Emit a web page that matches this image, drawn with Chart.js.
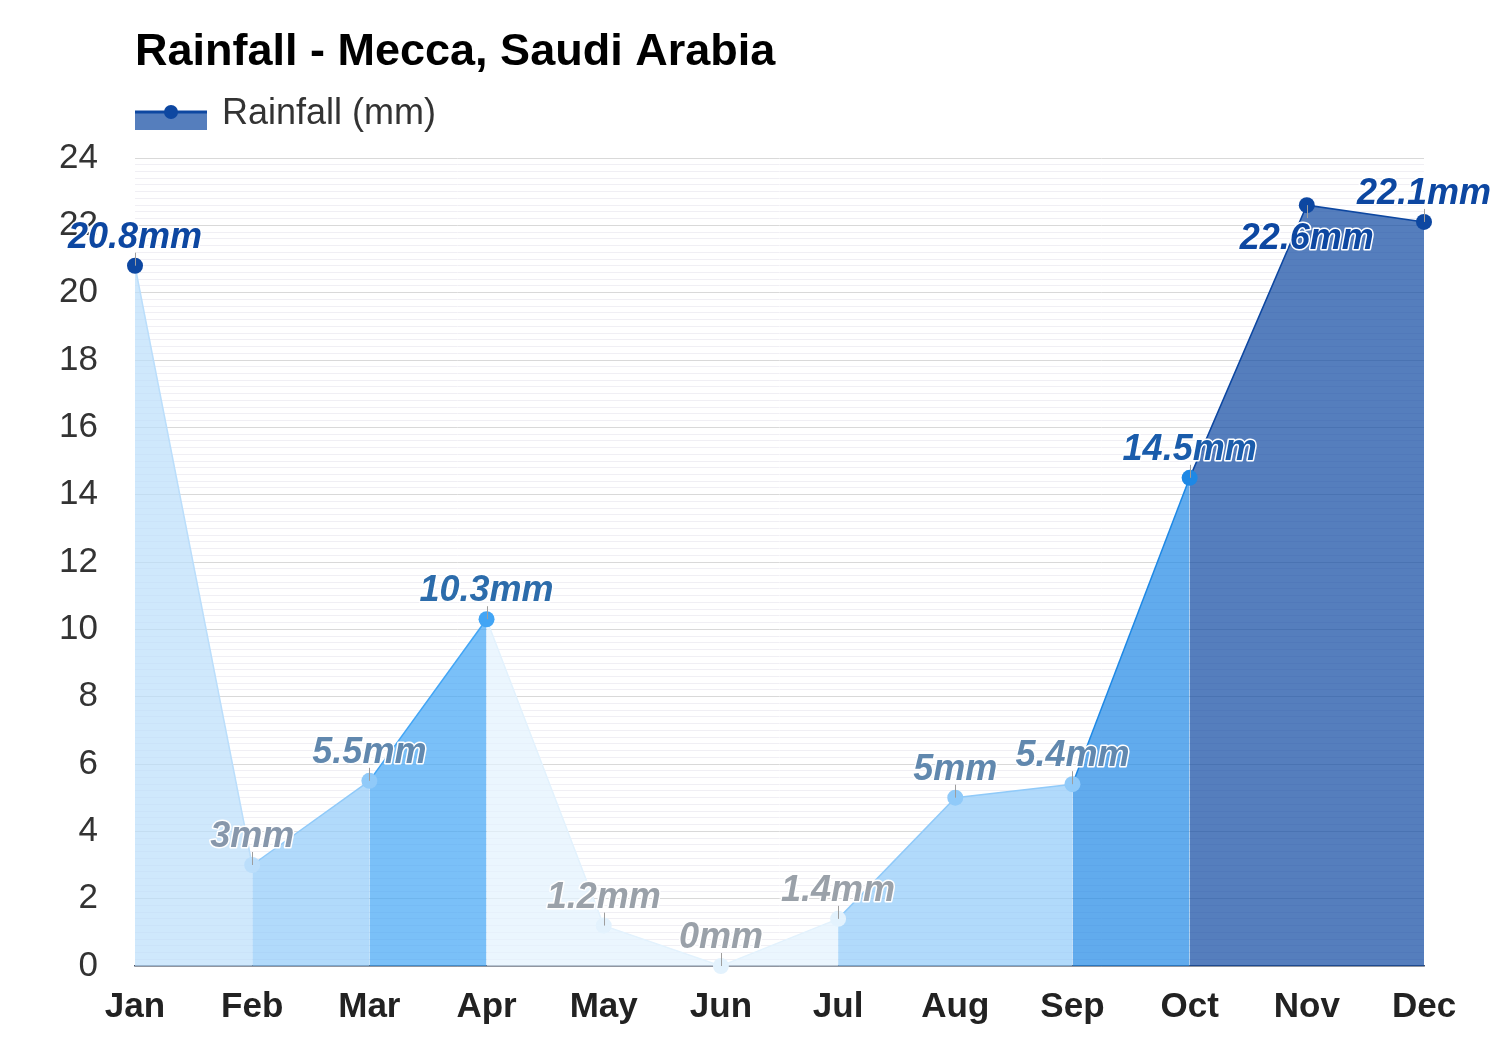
<!DOCTYPE html>
<html>
<head>
<meta charset="utf-8">
<title>Rainfall - Mecca, Saudi Arabia</title>
<script src="https://cdn.jsdelivr.net/npm/chart.js@4.4.1/dist/chart.umd.min.js"></script>
<style>
    html, body { margin: 0; padding: 0; background: #ffffff; }
    #wrap { width: 1500px; height: 1050px; }
</style>
</head>
<body>
<div id="wrap"><canvas id="rainChart" width="1500" height="1050"></canvas></div>
<script>
// Monthly data
const months = ['Jan', 'Feb', 'Mar', 'Apr', 'May', 'Jun', 'Jul', 'Aug', 'Sep', 'Oct', 'Nov', 'Dec'];
const rainfall = [20.8, 3, 5.5, 10.3, 1.2, 0, 1.4, 5, 5.4, 14.5, 22.6, 22.1];

// Y axis ticks
const yMax = 24;
const majorStep = 2;
const minorStep = 0.2;

// Labels drawn under their point instead of above
const labelsBelow = ['Nov'];

// Colour buckets by rainfall amount
const bucketLimits = [2, 4, 8, 12, 20];
const pointColors = ['#e3f2fd', '#bbdefb', '#90caf9', '#42a5f5', '#1e88e5', '#0d47a1'];
const fillColors = [
    'rgba(227, 242, 253, 0.7)',
    'rgba(187, 222, 251, 0.7)',
    'rgba(144, 202, 249, 0.7)',
    'rgba(66, 165, 245, 0.7)',
    'rgba(30, 136, 229, 0.7)',
    'rgba(13, 71, 161, 0.7)'
];
const labelColors = ['#9aa1a9', '#8797ab', '#6188ae', '#2c6cab', '#1a5cab', '#0d47a1'];

function bucket(v) {
    let i = 0;
    while (i < bucketLimits.length && v >= bucketLimits[i]) i++;
    return i;
}

function isMajor(v) {
    return Math.abs(v / majorStep - Math.round(v / majorStep)) < 1e-6;
}

const FONT = "'Liberation Sans', Arial, sans-serif";

// Title and legend drawn on the canvas
const headerPlugin = {
    id: 'header',
    afterDraw(chart) {
        const ctx = chart.ctx;
        ctx.save();
        ctx.fillStyle = '#000000';
        ctx.font = 'bold 45px ' + FONT;
        ctx.textBaseline = 'alphabetic';
        ctx.textAlign = 'left';
        ctx.fillText('Rainfall - Mecca, Saudi Arabia', 135, 65);

        // legend swatch
        ctx.fillStyle = fillColors[5];
        ctx.fillRect(135, 112, 72, 18);
        ctx.strokeStyle = pointColors[5];
        ctx.lineWidth = 3;
        ctx.beginPath();
        ctx.moveTo(135, 112);
        ctx.lineTo(207, 112);
        ctx.stroke();
        ctx.fillStyle = pointColors[5];
        ctx.beginPath();
        ctx.arc(171, 112, 7, 0, Math.PI * 2);
        ctx.fill();

        ctx.fillStyle = '#333333';
        ctx.font = '36px ' + FONT;
        ctx.fillText('Rainfall (mm)', 222, 124);
        ctx.restore();
    }
};

// Value labels with a small leader tick
const valueLabelPlugin = {
    id: 'valueLabels',
    afterDatasetsDraw(chart) {
        const ctx = chart.ctx;
        const meta = chart.getDatasetMeta(0);
        ctx.save();
        ctx.font = 'italic bold 36px ' + FONT;
        ctx.textAlign = 'center';
        ctx.textBaseline = 'alphabetic';
        ctx.lineJoin = 'round';
        meta.data.forEach((pt, i) => {
            const v = rainfall[i];
            const below = labelsBelow.includes(months[i]);
            const text = v + 'mm';

            ctx.strokeStyle = '#9e9e9e';
            ctx.lineWidth = 1;
            ctx.beginPath();
            ctx.moveTo(Math.round(pt.x) + 0.5, pt.y);
            ctx.lineTo(Math.round(pt.x) + 0.5, below ? pt.y + 13 : pt.y - 13);
            ctx.stroke();

            const ty = below ? pt.y + 44 : pt.y - 18;
            ctx.strokeStyle = '#ffffff';
            ctx.lineWidth = 3;
            ctx.strokeText(text, pt.x, ty);
            ctx.fillStyle = labelColors[bucket(v)];
            ctx.fillText(text, pt.x, ty);
        });
        ctx.restore();
    }
};

const ctx = document.getElementById('rainChart').getContext('2d');
new Chart(ctx, {
    type: 'line',
    data: {
        labels: months,
        datasets: [{
            label: 'Rainfall (mm)',
            data: rainfall,
            fill: 'origin',
            tension: 0,
            borderWidth: 1.5,
            clip: false,
            pointRadius: 8,
            pointHoverRadius: 8,
            pointBorderWidth: 0,
            pointBackgroundColor: c => pointColors[bucket(rainfall[c.dataIndex])],
            segment: {
                borderColor: c => pointColors[bucket(rainfall[c.p1DataIndex])],
                backgroundColor: c => fillColors[bucket(rainfall[c.p1DataIndex])]
            }
        }]
    },
    options: {
        responsive: false,
        animation: false,
        layout: {
            padding: { top: 158, right: 76, left: 0, bottom: 0 }
        },
        plugins: {
            legend: { display: false },
            title: { display: false },
            tooltip: { enabled: false }
        },
        scales: {
            x: {
                offset: false,
                afterFit: s => { s.height = 84; },
                grid: { color: 'rgba(0,0,0,0)', drawTicks: false },
                border: { display: true, color: '#4a5568', width: 1.5 },
                ticks: {
                    color: '#222222',
                    padding: 20,
                    font: { family: FONT, size: 35, weight: 'bold' }
                }
            },
            y: {
                min: 0,
                max: yMax,
                afterFit: s => { s.width = 135; },
                border: { display: false },
                grid: {
                    drawTicks: false,
                    lineWidth: 1,
                    color: c => isMajor(c.tick.value) ? '#d9d9d9' : '#f0eff4'
                },
                ticks: {
                    stepSize: minorStep,
                    autoSkip: false,
                    padding: 37,
                    color: '#333333',
                    font: { family: FONT, size: 35 },
                    callback: v => isMajor(v) ? Math.round(v) : ''
                }
            }
        }
    },
    plugins: [headerPlugin, valueLabelPlugin]
});
</script>
</body>
</html>
